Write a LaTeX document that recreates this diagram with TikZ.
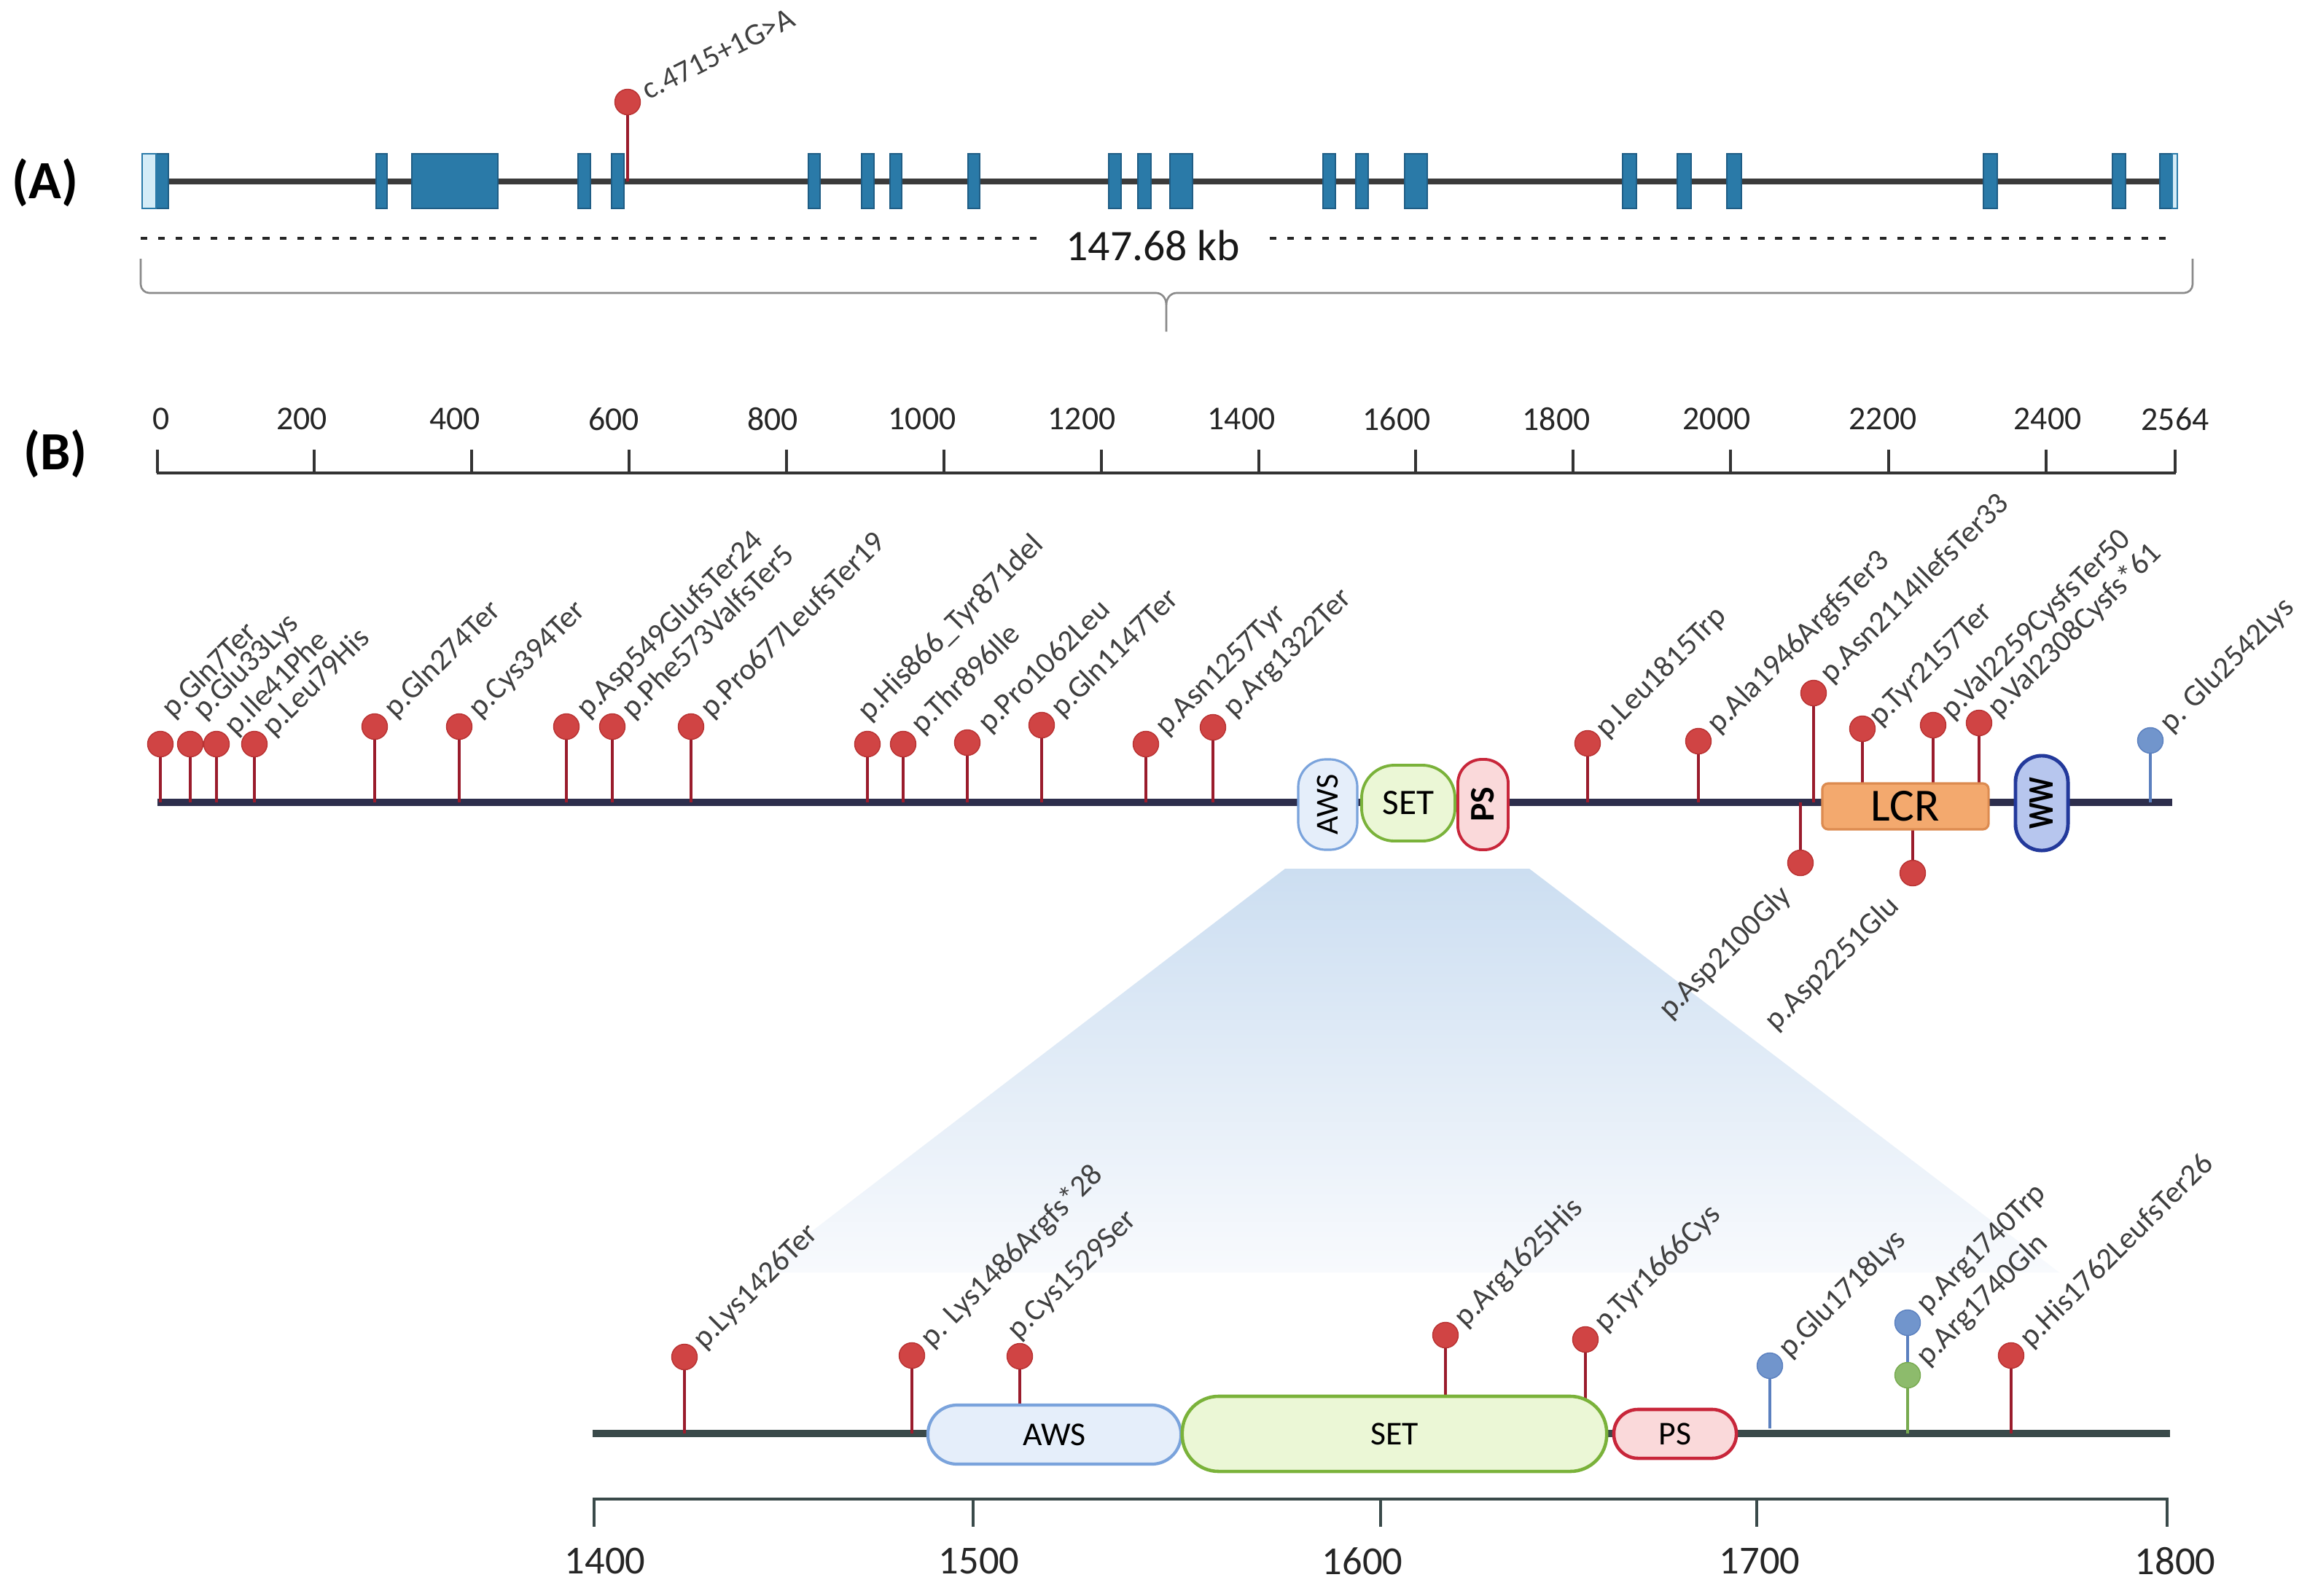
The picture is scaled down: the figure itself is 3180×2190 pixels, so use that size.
\documentclass[tikz,border=0pt]{standalone}
\usepackage{fontspec}
\setmainfont{Carlito}
\usetikzlibrary{calc}
\definecolor{exonblue}{HTML}{2A7AA8}
\definecolor{exonedge}{HTML}{1F5D85}
\definecolor{utrfill}{HTML}{D4ECF7}
\definecolor{geneline}{HTML}{3B3B3B}
\definecolor{headred}{HTML}{D04444}
\definecolor{headedge}{HTML}{B83232}
\definecolor{stemred}{HTML}{9A1C2C}
\definecolor{headblue}{HTML}{7195CC}
\definecolor{stemblue}{HTML}{5B80BF}
\definecolor{headgreen}{HTML}{8DBB6C}
\definecolor{stemgreen}{HTML}{77AA4F}
\definecolor{lblgray}{HTML}{404040}
\definecolor{protline}{HTML}{2D2E4C}
\definecolor{detline}{HTML}{3A4A4A}
\definecolor{awsfill}{HTML}{E5EEFA}
\definecolor{awsline}{HTML}{7AA3DC}
\definecolor{setfill}{HTML}{EBF7D6}
\definecolor{setline}{HTML}{7AB23A}
\definecolor{psfill}{HTML}{FAD9DA}
\definecolor{psline}{HTML}{C8263A}
\definecolor{lcrfill}{HTML}{F3A96E}
\definecolor{lcrline}{HTML}{DC8B50}
\definecolor{wwfill}{HTML}{B7C6EE}
\definecolor{wwline}{HTML}{23399B}
\definecolor{fantop}{HTML}{CCDEF1}
\definecolor{fanmid}{HTML}{E7EFF9}
\definecolor{fanbot}{HTML}{F8FAFD}
\definecolor{bracegray}{HTML}{8A8A8A}
\newcommand\lblf{\fontsize{12}{14}\selectfont}
\begin{document}
\begin{tikzpicture}[x=0.01cm,y=-0.01cm,
  exon/.style={fill=exonblue,draw=exonedge,line width=0.4pt},
  utr/.style={fill=utrfill,draw=exonblue,line width=0.6pt},
  headr/.style={circle,inner sep=0pt,minimum size=0.35cm,fill=headred,draw=headedge,line width=0.4pt},
  headb/.style={headr,fill=headblue,draw=stemblue},
  headg/.style={headr,fill=headgreen,draw=stemgreen},
  stemr/.style={draw=stemred,line width=1.1pt},
  stemb/.style={draw=stemblue,line width=1.1pt},
  stemg/.style={draw=stemgreen,line width=1.1pt},
  lbl/.style={rotate=45,anchor=base west,inner sep=0pt,text=lblgray,font=\lblf},
  dlbl/.style={rotate=45,anchor=north east,inner sep=0pt,text=lblgray,font=\lblf},
  dom/.style={rectangle,inner sep=0pt},
  tick/.style={line width=1pt,draw=black!80},
  panel/.style={font=\fontsize{21}{24}\selectfont\bfseries,inner sep=0pt}
]
\path[fill=white,use as bounding box] (0,0) rectangle (3180,2190);

% ---------------- Panel A ----------------
\node[panel] (pA) at (62,251) {(A)};
\coordinate (g0) at (195,249);
\coordinate (g1) at (2985,249);
\draw[geneline,line width=2pt] (g0) -- (g1);
\foreach \a/\b in {214/231,516/531,565/683,793/810,839/856,1109/1125,1182/1199,1221/1237,1328/1344,1521/1538,1561/1579,1605/1636,1815/1832,1860/1877,1927/1958,2226/2245,2301/2320,2369/2389,2721/2740,2898/2916,2963/2980}
  \draw[exon] (\a,211) rectangle (\b,286);
\draw[utr] (195,211) rectangle (214,286);
\draw[utr] (2980,211) rectangle (2987,286);
% splice variant
\node[headr] (sv) at (861,140) {};
\coordinate (svb) at (861,249);
\draw[stemr] (svb) -- (sv);
\node[rotate=27,anchor=base west,inner sep=0pt,text=lblgray,font=\lblf] (svl) at ($(sv)+(28,-2)$) {c.4715+1G>A};
% dashed length line
\coordinate (d0) at (193,327);
\coordinate (d1) at (1424,327);
\coordinate (d2) at (1742,327);
\coordinate (d3) at (2982,327);
\draw[black!85,line width=1.4pt,dash pattern=on 2.6pt off 4.2pt] (d0) -- (d1) (d2) -- (d3);
\node[font=\fontsize{17}{20}\selectfont,text=black!90,inner sep=0pt] (kb) at (1582,337) {147.68 kb};
% brace
\draw[bracegray,line width=0.75pt] (193,355) -- (193,390) to[out=-90,in=180] (205,402) -- (1586,402) to[out=0,in=90] (1600,418) -- (1600,455);
\draw[bracegray,line width=0.75pt] (3008,355) -- (3008,390) to[out=-90,in=0] (2996,402) -- (1614,402) to[out=180,in=90] (1600,418);

% ---------------- Panel B: scale ----------------
\node[panel] (pB) at (76,623) {(B)};
\coordinate (s0) at (215,649);
\coordinate (s1) at (2985,649);
\draw[black!80,line width=1.4pt] (s0) -- (s1);
\foreach \x/\lx/\t in {216/221/0,431/414/200,647/624/400,863/842/600,1079/1060/800,1295/1265/1000,1511/1484/1200,1727/1703/1400,1942/1916/1600,2158/2135/1800,2374/2355/2000,2591/2583/2200,2807/2809/2400,2984/2984/2564}{
  \draw[tick] (\x,617) -- (\x,649);
  \node[font=\fontsize{13}{15}\selectfont,text=black!85,inner sep=0pt] at (\lx,575) {\t};
}

% ---------------- Panel B: zoom fan ----------------
\shade[top color=fantop,middle color=fanmid,bottom color=fanbot] (1763,1192) -- (2098,1192) -- (2825,1746) -- (1040,1746) -- cycle;

% ---------------- Panel B: full protein ----------------
\coordinate (p0) at (216,1101);
\coordinate (p1) at (2980,1101);
\draw[protline,line width=2.6pt] (p0) -- (p1);

\foreach \i/\x/\y/\yb/\dx/\dy/\t in {
 1/220/1021/1101/5/-44/p.Gln7Ter,
 2/261/1021/1101/7/-42/p.Glu33Lys,
 3/297/1021/1101/14/-20/p.Ile41Phe,
 4/349/1021/1101/14/-19/p.Leu79His,
 5/514/997/1101/16/-20/p.Gln274Ter,
 6/630/997/1101/16/-20/p.Cys394Ter,
 7/777/997/1101/17/-20/p.Asp549GlufsTer24,
 8/840/997/1101/16/-19/p.Phe573ValfsTer5,
 9/948/997/1101/16/-20/p.Pro677LeufsTer19,
 10/1190/1021/1101/-10/-40/p.His866\_Tyr871del,
 11/1239/1021/1101/14/-22/p.Thr896Ile,
 12/1327/1019/1101/18/-22/p.Pro1062Leu,
 13/1429/995/1101/16/-19/p.Gln1147Ter,
 14/1572/1021/1101/16/-20/p.Asn1257Tyr,
 15/1664/998/1101/17/-22/p.Arg1322Ter,
 16/2178/1020/1101/14/-16/p.Leu1815Trp,
 17/2330/1017/1101/15/-19/p.Ala1946ArgfsTer3,
 18/2488/951/1101/12/-22/p.Asn2114IlefsTer33,
 19/2555/1000/1075/12/-12/p.Tyr2157Ter,
 20/2652/995/1075/14/-16/p.Val2259CysfsTer50,
 21/2715/992/1075/15/-16/p.Val2308Cysfs*61}{
  \node[headr] (t\i) at (\x,\y) {};
  \coordinate (tb\i) at (\x,\yb);
  \draw[stemr] (tb\i) -- (t\i);
  \node[lbl] (tl\i) at ($(t\i)+(\dx,\dy)+(12,10)$) {\t};
}
% blue variant
\node[headb] (t22) at (2950,1016) {};
\coordinate (tb22) at (2950,1101);
\draw[stemb] (tb22) -- (t22);
\node[lbl] (tl22) at ($(t22)+(28,-9)$) {p. Glu2542Lys};
% downward variants
\node[headr] (dn1) at (2470,1184) {};
\coordinate (dnb1) at (2470,1101);
\draw[stemr] (dnb1) -- (dn1);
\node[dlbl] (dnl1) at ($(dn1)+(-32,26)$) {p.Asp2100Gly};
\node[headr] (dn2) at (2624,1198) {};
\coordinate (dnb2) at (2624,1138);
\draw[stemr] (dnb2) -- (dn2);
\node[dlbl] (dnl2) at ($(dn2)+(-38,26)$) {p.Asp2251Glu};

% domains (full protein)
\node[dom,fill=awsfill,draw=awsline,line width=0.9pt,minimum width=0.81cm,minimum height=1.24cm,rounded corners=0.38cm] (aws) at (1821.5,1104) {};
\node[rotate=90,font=\fontsize{12.5}{14}\selectfont,inner sep=0pt] at (aws.center) {AWS};
\node[dom,fill=setfill,draw=setline,line width=1.1pt,minimum width=1.28cm,minimum height=1.04cm,rounded corners=0.45cm] (set) at (1932,1102) {};
\node[font=\fontsize{14}{16}\selectfont,inner sep=0pt] at (set.center) {SET};
\node[dom,fill=psfill,draw=psline,line width=1.1pt,minimum width=0.69cm,minimum height=1.24cm,rounded corners=0.33cm] (ps) at (2034.5,1104) {};
\node[rotate=90,font=\fontsize{13.5}{15}\selectfont\bfseries,inner sep=0pt] at (ps.center) {PS};
\node[dom,fill=lcrfill,draw=lcrline,line width=0.9pt,minimum width=2.28cm,minimum height=0.63cm,rounded corners=0.08cm] (lcr) at (2614,1106.5) {};
\node[font=\fontsize{18}{20}\selectfont,inner sep=0pt] at (lcr.center) {LCR};
\node[dom,fill=wwfill,draw=wwline,line width=1.4pt,minimum width=0.72cm,minimum height=1.30cm,rounded corners=0.36cm] (ww) at (2801,1102) {};
\node[rotate=90,xscale=0.8,font=\fontsize{14}{16}\selectfont\bfseries,inner sep=0pt] at (ww.center) {WW};

% ---------------- Panel B: detail ----------------
\coordinate (q0) at (813,1967);
\coordinate (q1) at (2977,1967);
\draw[detline,line width=2.6pt] (q0) -- (q1);

\foreach \i/\x/\y/\yb/\dx/\dy/\t in {
 1/939/1862/1967/15/-19/p.Lys1426Ter,
 2/1251/1860/1967/15/-19/p. Lys1486Argfs*28,
 3/1399/1861/1928/-14/-31/p.Cys1529Ser,
 4/1983/1832/1917/15/-19/p.Arg1625His,
 5/2175/1838/1921/15/-19/p.Tyr1666Cys,
 6/2759/1860/1967/15/-19/p.His1762LeufsTer26}{
  \node[headr] (z\i) at (\x,\y) {};
  \coordinate (zb\i) at (\x,\yb);
  \draw[stemr] (zb\i) -- (z\i);
  \node[lbl] (zl\i) at ($(z\i)+(\dx,\dy)+(12,10)$) {\t};
}
\node[headb] (z7) at (2428,1874) {};
\coordinate (zb7) at (2428,1960);
\draw[stemb] (zb7) -- (z7);
\node[lbl] (zl7) at ($(z7)+(27,-9)$) {p.Glu1718Lys};
\node[headg] (z9) at (2617,1887) {};
\coordinate (zb9) at (2617,1967);
\draw[stemg] (zb9) -- (z9);
\node[headb] (z8) at (2617,1815) {};
\draw[stemb] (z9) -- (z8);
\node[lbl] (zl8) at ($(z8)+(27,-11)$) {p.Arg1740Trp};
\node[lbl] (zl9) at ($(z9)+(27,-11)$) {p.Arg1740Gln};

\node[dom,fill=awsfill,draw=awsline,line width=1.2pt,minimum width=3.47cm,minimum height=0.81cm,rounded corners=0.40cm] (aws2) at (1446.5,1968.5) {};
\node[font=\fontsize{13}{15}\selectfont,inner sep=0pt] at (aws2.center) {AWS};
\node[dom,fill=setfill,draw=setline,line width=1.3pt,minimum width=5.82cm,minimum height=1.03cm,rounded corners=0.50cm] (set2) at (1913,1967.5) {};
\node[font=\fontsize{13}{15}\selectfont,inner sep=0pt] at (set2.center) {SET};
\node[dom,fill=psfill,draw=psline,line width=1.3pt,minimum width=1.68cm,minimum height=0.67cm,rounded corners=0.33cm] (ps2) at (2298,1967.5) {};
\node[font=\fontsize{13}{15}\selectfont,inner sep=0pt] at (ps2.center) {PS};

% detail scale
\coordinate (r0) at (813,2057);
\coordinate (r1) at (2975,2057);
\draw[detline,line width=1.4pt] (r0) -- (r1);
\foreach \x/\lx/\t in {815/830/1400,1335/1343/1500,1894/1869/1600,2410/2414/1700,2973/2984/1800}{
  \draw[detline,line width=1.2pt] (\x,2057) -- (\x,2095);
  \node[font=\fontsize{15.5}{18}\selectfont,text=black!85,inner sep=0pt] at (\lx,2142) {\t};
}
\end{tikzpicture}
\end{document}
